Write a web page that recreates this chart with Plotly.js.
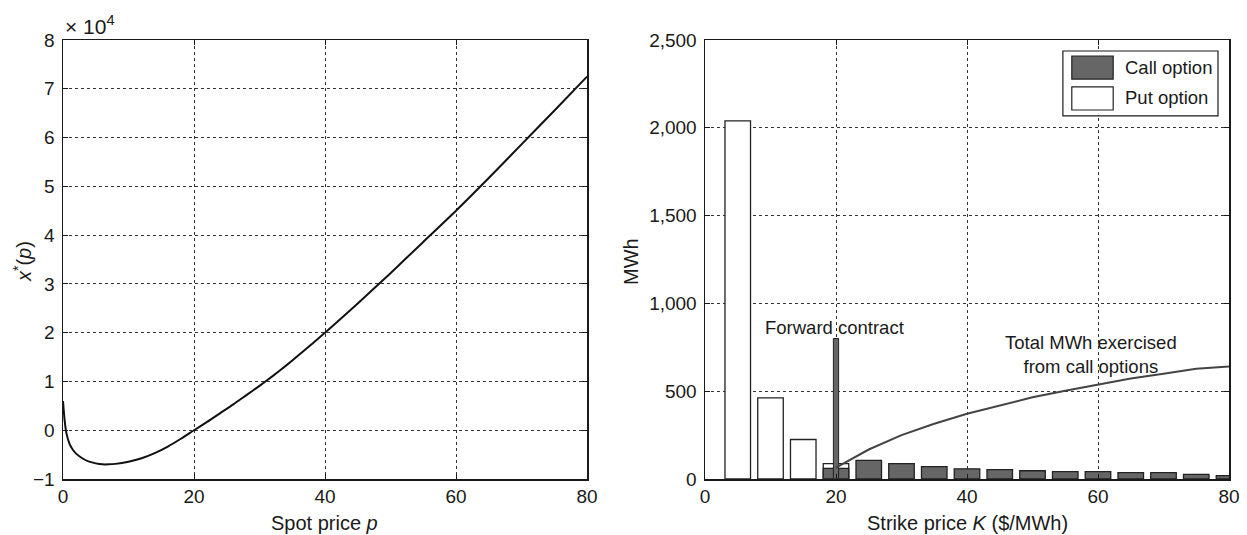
<!DOCTYPE html>
<html>
<head>
<meta charset="utf-8">
<script src="https://cdn.plot.ly/plotly-3.0.1.min.js"></script>
<style>html,body{margin:0;padding:0;background:#fff;}#chart{width:1247px;height:535px;}</style>
</head>
<body>
<div id="chart"></div>
<script>
// Left panel: optimal position x*(p) (units of 1e4) vs spot price p
const spotPrice = [0, 0.25, 0.5, 1, 1.5, 2, 3, 4, 5, 6, 7, 8, 10, 12, 14, 16, 18, 20, 22, 24, 26, 28, 30, 32, 34, 36, 38, 40, 45, 50, 55, 60, 65, 70, 75, 80];
const xStar = [0.6, 0.2, -0.05, -0.28, -0.4, -0.48, -0.58, -0.645, -0.68, -0.70, -0.70, -0.69, -0.645, -0.575, -0.47, -0.335, -0.175, 0, 0.17, 0.35, 0.53, 0.72, 0.91, 1.11, 1.32, 1.54, 1.77, 2.0, 2.6, 3.22, 3.86, 4.5, 5.17, 5.86, 6.55, 7.25];

// Right panel: option portfolio vs strike price K
const putStrikes = [5, 10, 15, 20];
const putMWh = [2040, 462, 225, 88];
const callStrikes = [20, 25, 30, 35, 40, 45, 50, 55, 60, 65, 70, 75, 80];
const callMWh = [60, 106, 87, 70, 58, 53, 47, 42, 42, 36, 36, 26, 19];
const forwardStrike = [20];
const forwardMWh = [800];
const totalStrikes = [20, 25, 30, 35, 40, 45, 50, 55, 60, 65, 70, 75, 80];
const totalCallMWh = [65, 168, 250, 315, 372, 420, 465, 503, 537, 572, 600, 628, 640];

const leftTicks = [-1, 0, 1, 2, 3, 4, 5, 6, 7, 8];
const rightTicks = [0, 500, 1000, 1500, 2000, 2500];
const xTicks = [0, 20, 40, 60, 80];

const FONT = 'Liberation Sans, Arial, sans-serif';
const INK = '#1a1a1a';

const traces = [
  {x: spotPrice, y: xStar, type: 'scatter', mode: 'lines', line: {color: '#111', width: 2, shape: 'spline', smoothing: 0.6}, xaxis: 'x', yaxis: 'y', showlegend: false, hoverinfo: 'x+y'},
  {x: putStrikes, y: putMWh, type: 'bar', width: 3.9, marker: {color: '#ffffff', line: {color: '#222', width: 1.3}}, xaxis: 'x2', yaxis: 'y2', name: 'Put option', showlegend: false},
  {x: callStrikes, y: callMWh, type: 'bar', width: 3.9, marker: {color: '#666666', line: {color: '#222', width: 1.3}}, xaxis: 'x2', yaxis: 'y2', name: 'Call option', showlegend: false},
  {x: forwardStrike, y: forwardMWh, type: 'bar', width: 0.8, marker: {color: '#666666', line: {color: '#222', width: 1}}, xaxis: 'x2', yaxis: 'y2', name: 'Forward contract', showlegend: false},
  {x: totalStrikes, y: totalCallMWh, type: 'scatter', mode: 'lines', line: {color: '#444', width: 2}, xaxis: 'x2', yaxis: 'y2', name: 'Total MWh exercised', showlegend: false}
];

const axisCommon = {
  showline: true, linecolor: INK, linewidth: 1.5, mirror: 'ticks',
  ticks: 'inside', ticklen: 5, tickcolor: INK, tickwidth: 1,
  showgrid: true, gridcolor: '#333', gridwidth: 1, griddash: 'dot',
  zeroline: false, tickfont: {family: FONT, size: 19, color: INK},
  fixedrange: true
};

const yDom = [56/535, 495/535];

const layout = {
  width: 1247, height: 535,
  margin: {l: 0, r: 0, t: 0, b: 0},
  paper_bgcolor: '#fff', plot_bgcolor: '#fff',
  barmode: 'overlay',
  font: {family: FONT, color: INK},
  xaxis: Object.assign({}, axisCommon, {domain: [63/1247, 587/1247], range: [0, 80], tickvals: xTicks, anchor: 'y'}),
  yaxis: Object.assign({}, axisCommon, {domain: yDom, range: [-1, 8], tickvals: leftTicks, anchor: 'x', ticklabelstandoff: 3}),
  xaxis2: Object.assign({}, axisCommon, {domain: [705/1247, 1229/1247], range: [0, 80], tickvals: xTicks, anchor: 'y2'}),
  yaxis2: Object.assign({}, axisCommon, {domain: yDom, range: [0, 2500], tickvals: rightTicks, tickformat: ',d', anchor: 'x2', ticklabelstandoff: 3}),
  shapes: [
    {type: 'rect', xref: 'x2 domain', yref: 'y2 domain', x0: 0.683, x1: 0.979, y0: 0.827, y1: 0.975, line: {color: INK, width: 1.2}, fillcolor: '#fff', layer: 'above'},
    {type: 'rect', xref: 'x2 domain', yref: 'y2 domain', x0: 0.700, x1: 0.779, y0: 0.911, y1: 0.9636, line: {color: '#222', width: 1.2}, fillcolor: '#666', layer: 'above'},
    {type: 'rect', xref: 'x2 domain', yref: 'y2 domain', x0: 0.700, x1: 0.779, y0: 0.8405, y1: 0.893, line: {color: '#222', width: 1.2}, fillcolor: '#fff', layer: 'above'}
  ],
  annotations: [
    {text: '× 10<sup>4</sup>', xref: 'x domain', yref: 'y domain', x: 0, y: 1, xanchor: 'left', yanchor: 'bottom', yshift: 0, showarrow: false, font: {family: FONT, size: 21, color: INK}},
    {text: '<i>x</i><sup>*</sup>(<i>p</i>)', xref: 'paper', yref: 'paper', x: 22/1247, y: 1 - 262/535, xanchor: 'center', yanchor: 'middle', textangle: -90, showarrow: false, font: {family: FONT, size: 20, color: INK}},
    {text: 'Spot price <i>p</i>', xref: 'paper', yref: 'paper', x: 324/1247, y: 1 - 523/535, xanchor: 'center', yanchor: 'middle', showarrow: false, font: {family: FONT, size: 20, color: INK}},
    {text: 'MWh', xref: 'paper', yref: 'paper', x: 631/1247, y: 1 - 262/535, xanchor: 'center', yanchor: 'middle', textangle: -90, showarrow: false, font: {family: FONT, size: 20, color: INK}},
    {text: 'Strike price <i>K</i> ($/MWh)', xref: 'paper', yref: 'paper', x: 967/1247, y: 1 - 523/535, xanchor: 'center', yanchor: 'middle', showarrow: false, font: {family: FONT, size: 20, color: INK}},
    {text: 'Call option', xref: 'x2 domain', yref: 'y2 domain', x: 0.797, y: 0.937, xanchor: 'left', yanchor: 'middle', showarrow: false, font: {family: FONT, size: 18.5, color: INK}},
    {text: 'Put option', xref: 'x2 domain', yref: 'y2 domain', x: 0.797, y: 0.868, xanchor: 'left', yanchor: 'middle', showarrow: false, font: {family: FONT, size: 18.5, color: INK}},
    {text: 'Forward contract', xref: 'paper', yref: 'paper', x: 835/1247, y: 1 - 327/535, xanchor: 'center', yanchor: 'middle', showarrow: false, font: {family: FONT, size: 18.5, color: INK}},
    {text: 'Total MWh exercised<br>from call options', xref: 'paper', yref: 'paper', x: 1091/1247, y: 1 - 354/535, xanchor: 'center', yanchor: 'middle', showarrow: false, font: {family: FONT, size: 18.5, color: INK}}
  ]
};

Plotly.newPlot('chart', traces, layout, {displayModeBar: false, staticPlot: true});
</script>
</body>
</html>
